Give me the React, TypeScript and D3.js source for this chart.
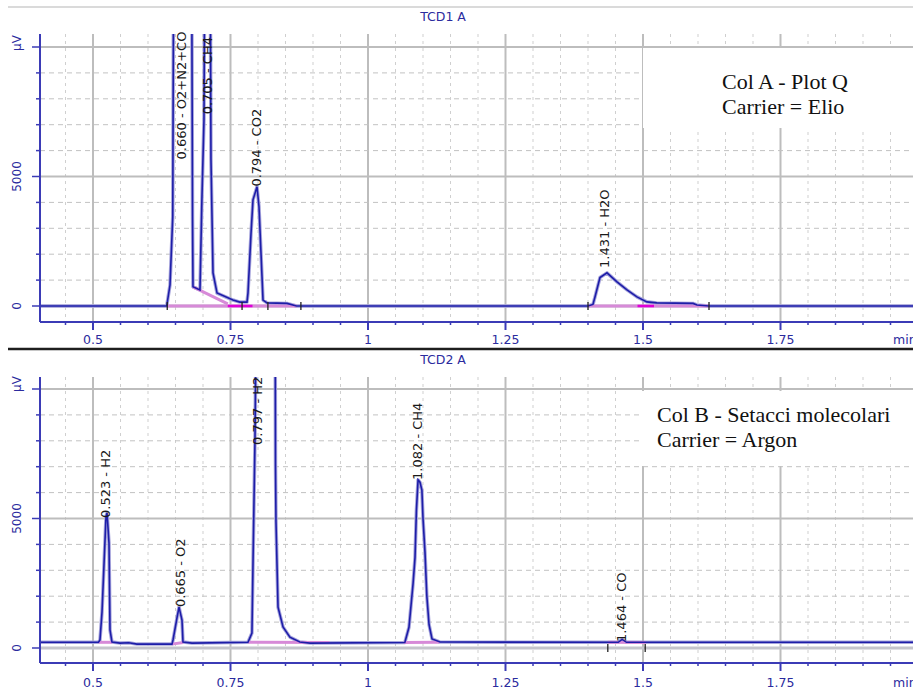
import React from 'react';
import * as d3 from 'd3';

// retention time (min) vs signal (µV)
const tcd1Signal: [number, number][] = [
  [0.404, 0], [0.634, 0], [0.64, 810], [0.645, 3450], [0.647, 16000], [0.679, 16000],
  [0.681, 3330], [0.6818, 740], [0.6945, 620], [0.698, 4100], [0.7018, 7200], [0.7036, 16000],
  [0.7127, 16000], [0.7145, 5660], [0.7182, 1280], [0.7255, 500], [0.7545, 230], [0.767, 150],
  [0.78, 150], [0.7818, 500], [0.7873, 2800], [0.7909, 4100], [0.7982, 4600], [0.8018, 3840],
  [0.8073, 1130], [0.8091, 230], [0.8164, 120], [0.8527, 100], [0.87, 0],
  [1.4, 0], [1.409, 60], [1.4127, 350], [1.4218, 1100], [1.4345, 1280], [1.4527, 930],
  [1.4709, 620], [1.489, 350], [1.507, 160], [1.525, 120], [1.591, 100], [1.598, 40],
  [1.62, 0], [1.991, 0],
];

const tcd2Signal: [number, number][] = [
  [0.404, 220], [0.51, 220], [0.5127, 310], [0.5164, 1390], [0.5236, 5060], [0.5255, 5210],
  [0.5291, 4050], [0.5309, 700], [0.5345, 230], [0.549, 190], [0.565, 200], [0.58, 150],
  [0.6436, 150], [0.6455, 310], [0.6527, 1160], [0.6564, 1580], [0.6618, 1080], [0.6636, 230],
  [0.68, 190], [0.7818, 220], [0.789, 580], [0.791, 3400], [0.7945, 8000], [0.798, 16000],
  [0.8309, 16000], [0.8318, 7070], [0.8327, 4870], [0.8364, 1580], [0.8455, 810], [0.858, 420],
  [0.876, 230], [0.8945, 190], [1.067, 210], [1.0745, 800], [1.082, 2500], [1.0855, 3500],
  [1.088, 5300], [1.091, 6490], [1.0945, 6400], [1.098, 6100], [1.1, 5000], [1.1036, 3700],
  [1.107, 2000], [1.111, 900], [1.1164, 350], [1.131, 230], [1.455, 220], [1.462, 330],
  [1.47, 220], [1.991, 220],
];

// peak labels: position (min), where the label starts (µV), text
const tcd1Labels = [
  { t: 0.6618, v: 5660, text: '0.660 - O2+N2+CO' },
  { t: 0.7073, v: 7400, text: '0.705 - CH4' },
  { t: 0.7964, v: 4610, text: '0.794 - CO2' },
  { t: 1.4309, v: 1470, text: '1.431 - H2O' },
];
const tcd2Labels = [
  { t: 0.5236, v: 5020, text: '0.523 - H2' },
  { t: 0.6582, v: 1580, text: '0.665 - O2' },
  { t: 0.7982, v: 7840, text: '0.797 - H2' },
  { t: 1.0909, v: 6490, text: '1.082 - CH4' },
  { t: 1.4618, v: 230, text: '1.464 - CO' },
];

// integration baselines [t0, v0, t1, v1]
const tcd1Baselines = [[0.634, 0, 0.87, 0], [0.6818, 740, 0.745, 80], [1.4, 0, 1.62, 0]];
const tcd1Marked = [[0.745, 0, 0.79, 0], [1.49, 0, 1.52, 0]];
const tcd2Baselines = [
  [0.51, 220, 0.535, 220], [0.643, 150, 0.664, 210], [0.782, 220, 0.93, 210],
  [1.065, 210, 1.13, 225], [1.436, 220, 1.505, 215],
];
const tcd1Events = [0.635, 0.771, 0.818, 0.878, 1.4, 1.62];
const tcd2Events = [1.436, 1.504];

const xTicks = [0.5, 0.75, 1, 1.25, 1.5, 1.75];
const yTicks = [0, 5000];
const tcd1Legend = ['Col A - Plot Q', 'Carrier = Elio'];
const tcd2Legend = ['Col B - Setacci molecolari', 'Carrier = Argon'];

const x = d3.scaleLinear().domain([0.5, 1.75]).range([93, 780.5]);
const LEFT = 40;
const RIGHT = 913;
const AXIS_BLUE = '#3b3bb6';
const TEXT_BLUE = '#2b2b9e';
const SANS = 'DejaVu Sans, Verdana, sans-serif';

function Panel({ id, cfg, signal, labels, baselines, marked, events, legend }: any) {
  const y = d3.scaleLinear().domain([0, 10000]).range([cfg.zeroY, cfg.maxY]);
  const line = d3.line<[number, number]>().x((d) => x(d[0])).y((d) => y(d[1]));
  const minor = d3.range(9, 40).map((i) => ({ t: i * 0.05, major: i % 5 === 0 }));
  const hLines = d3.range(1, 11).map((i) => ({ v: i * 1000, major: i % 5 === 0 }));

  return (
    <g>
      <defs>
        <clipPath id={id}>
          <rect x={LEFT} y={cfg.plotTop} width={RIGHT - LEFT} height={cfg.axisY - cfg.plotTop} />
        </clipPath>
      </defs>
      <text x={443} y={cfg.titleY} textAnchor="middle" fontFamily={SANS} fontSize={12.5} fill={TEXT_BLUE}>
        {cfg.title}
      </text>

      {/* grid */}
      {minor.map((m) => (
        <line key={'v' + m.t} x1={x(m.t)} x2={x(m.t)} y1={cfg.plotTop} y2={cfg.axisY}
          stroke={m.major ? '#bdbdbd' : '#cfcfcf'} strokeWidth={m.major ? 2 : 1}
          strokeDasharray={m.major ? undefined : '3,4'} />
      ))}
      {hLines.map((h) => (
        <line key={'h' + h.v} x1={LEFT} x2={RIGHT} y1={y(h.v)} y2={y(h.v)}
          stroke={h.major ? '#bdbdbd' : '#c2c2c2'} strokeWidth={h.major ? 2 : 1}
          strokeDasharray={h.major ? undefined : '5,4'} />
      ))}
      <line x1={LEFT} x2={RIGHT} y1={y(0)} y2={y(0)} stroke="#c4c4cc" strokeWidth={3} />

      {/* legend box */}
      <rect x={cfg.box[0]} y={cfg.box[1]} width={RIGHT - cfg.box[0]} height={cfg.box[2]} fill="#fff" />
      {legend.map((s: string, i: number) => (
        <text key={s} x={cfg.legendX} y={cfg.legendY + i * 24.5} fontFamily="Liberation Serif, Times New Roman, serif"
          fontSize={22} fill="#111">{s}</text>
      ))}

      {/* trace */}
      <g clipPath={`url(#${id})`}>
        <path d={line(signal) || ''} fill="none" stroke="#a6a4dc" strokeWidth={3.5} strokeLinejoin="round" />
        {baselines.map((b: number[], i: number) => (
          <line key={'b' + i} x1={x(b[0])} y1={y(b[1])} x2={x(b[2])} y2={y(b[3])} stroke="#d78ad8" strokeWidth={3} />
        ))}
        <path d={line(signal) || ''} fill="none" stroke="#1d1da8" strokeWidth={1.6} />
        {marked.map((b: number[], i: number) => (
          <line key={'m' + i} x1={x(b[0])} y1={y(b[1])} x2={x(b[2])} y2={y(b[3])} stroke="#e000d8" strokeWidth={2.5} />
        ))}
        {events.map((t: number) => (
          <line key={'e' + t} x1={x(t)} x2={x(t)} y1={y(0) - 4} y2={y(0) + 4} stroke="#222" strokeWidth={1.3} />
        ))}
      </g>

      {labels.map((l: any) => (
        <text key={l.text} transform={`translate(${x(l.t)},${y(l.v)}) rotate(-90)`}
          dominantBaseline="central" fontFamily={SANS} fontSize={13} fill="#1a1a1a">{l.text}</text>
      ))}

      {/* y axis */}
      <line x1={LEFT} x2={LEFT} y1={cfg.plotTop} y2={cfg.axisY} stroke={AXIS_BLUE} strokeWidth={2} />
      {d3.range(0, 11).map((i) => (
        <line key={'yt' + i} x1={i % 5 === 0 ? 32 : 36} x2={LEFT} y1={y(i * 1000)} y2={y(i * 1000)}
          stroke={AXIS_BLUE} strokeWidth={1.5} />
      ))}
      {yTicks.map((v) => (
        <text key={'yl' + v} transform={`translate(17,${y(v)}) rotate(-90)`} textAnchor="middle"
          dominantBaseline="central" fontFamily={SANS} fontSize={12} fill={TEXT_BLUE}>{v}</text>
      ))}
      <text transform={`translate(17,${cfg.unitY}) rotate(-90)`} textAnchor="middle" dominantBaseline="central"
        fontFamily={SANS} fontSize={12} fill={TEXT_BLUE}>µV</text>

      {/* x axis */}
      <line x1={LEFT} x2={RIGHT} y1={cfg.axisY} y2={cfg.axisY} stroke={AXIS_BLUE} strokeWidth={2} />
      {minor.map((m) => (
        <line key={'xt' + m.t} x1={x(m.t)} x2={x(m.t)} y1={cfg.axisY} y2={cfg.axisY + (m.major ? 8 : 3)}
          stroke={AXIS_BLUE} strokeWidth={m.major ? 2 : 1.5} />
      ))}
      {xTicks.map((t) => (
        <text key={'xl' + t} x={x(t)} y={cfg.tickY} textAnchor="middle" fontFamily={SANS} fontSize={12.5}
          fill={TEXT_BLUE}>{t}</text>
      ))}
      <text x={893} y={cfg.tickY} fontFamily={SANS} fontSize={12.5} fill={TEXT_BLUE}>min</text>
    </g>
  );
}

export default function App() {
  const top = {
    title: 'TCD1 A', titleY: 21, plotTop: 34, axisY: 322, zeroY: 306, maxY: 47, tickY: 344, unitY: 43,
    box: [643, 48, 80], legendX: 722, legendY: 89,
  };
  const bottom = {
    title: 'TCD2 A', titleY: 364, plotTop: 377, axisY: 663, zeroY: 648, maxY: 389, tickY: 687, unitY: 384,
    box: [642, 391, 75], legendX: 657, legendY: 422,
  };
  return (
    <svg width={913} height={691} style={{ position: 'absolute', left: 0, top: 0, background: '#fff' }}>
      <line x1={8} x2={913} y1={7} y2={7} stroke="#dadada" strokeWidth={2} />
      <Panel id="clip1" cfg={top} signal={tcd1Signal} labels={tcd1Labels} baselines={tcd1Baselines}
        marked={tcd1Marked} events={tcd1Events} legend={tcd1Legend} />
      <line x1={8} x2={913} y1={349} y2={349} stroke="#1e1e1e" strokeWidth={2.5} />
      <Panel id="clip2" cfg={bottom} signal={tcd2Signal} labels={tcd2Labels} baselines={tcd2Baselines}
        marked={[]} events={tcd2Events} legend={tcd2Legend} />
    </svg>
  );
}
